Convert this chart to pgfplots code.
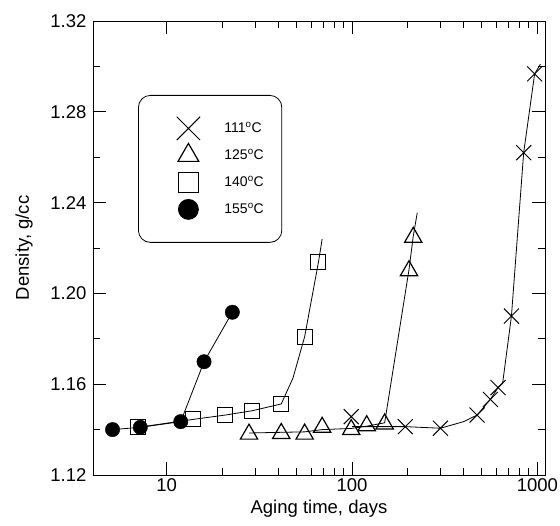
\documentclass[border=0pt]{standalone}
\usepackage{fontspec}
\setmainfont{Liberation Sans}
\usepackage{pgfplots}
\pgfplotsset{compat=1.18}
\pgfplotsset{myleg/.style={legend image code/.code={\path[draw=none,fill=none] (-34pt,-13.5pt) rectangle (20pt,13.5pt); \draw[sharp corners,##1,only marks] plot coordinates {(0pt,0pt)};}}}
\begin{document}
\begin{tikzpicture}
\useasboundingbox (-93pt,-51pt) rectangle (467pt,475pt);
\begin{axis}[
 scale only axis, width=452pt, height=454pt,
 xmode=log, xmin=4, xmax=1100, ymin=1.12, ymax=1.32,
 xtick={10,100,1000}, xticklabels={10,100,1000},
 ytick={1.12,1.16,1.20,1.24,1.28,1.32},
 yticklabels={1.12,1.16,1.20,1.24,1.28,1.32},
 minor ytick={1.14,1.18,1.22,1.26,1.30},
 tick align=inside, major tick length=13pt, minor tick length=7pt,
 tick style={black, line width=0.8pt},
 axis line style={line width=0.8pt},
 ticklabel style={font=\fontsize{18.5}{20}\selectfont},
 yticklabel style={xshift=-3pt},
 label style={font=\fontsize{18.5}{20}\selectfont},
 xlabel={Aging time, days}, ylabel={Density, g/cc},
 xlabel style={at={([yshift=-39pt]axis description cs:0.5,0)}, anchor=base},
 ylabel style={at={([xshift=-64pt]axis description cs:0,0.5)}, anchor=base},
 legend style={at={(axis description cs:0.0996,0.837)}, anchor=north west,
   draw=black, line width=0.8pt, rounded corners=12pt,
   inner xsep=16pt, inner ysep=19.5pt, row sep=0pt,
   font=\fontsize{14}{14}\selectfont,
   /tikz/every odd column/.append style={column sep=14pt}},
 legend cell align=left,
]
% lines
\addplot[no marks, line width=0.8pt, black, forget plot] coordinates {
 (5.1,1.1400) (7.2,1.1410) (11.9,1.1435) (15.9,1.1699) (22.6,1.1917)};
\addplot[no marks, line width=0.8pt, black, forget plot] coordinates {
 (7.0,1.1410) (13.9,1.1445) (20.7,1.1464) (28.9,1.1483) (41.5,1.1513) (48,1.1627) (55.5,1.1809) (65.9,1.2138) (69,1.2240)};
\addplot[no marks, line width=0.8pt, black, forget plot] coordinates {
 (27.8,1.1385) (41.5,1.1388) (55.5,1.1390) (69,1.1400) (99,1.1405) (120,1.1415) (150,1.1430) (203,1.2105) (214,1.2252) (225,1.2356)};
\addplot[no marks, line width=0.8pt, black, forget plot] coordinates {
 (100,1.1413) (194,1.1413) (300,1.1406) (400,1.1435) (473,1.1464) (558,1.1533) (614,1.1585) (650,1.1605) (725,1.1900) (844,1.2620) (967,1.2967) (1040,1.3010)};
% marks
\addplot[only marks, mark=x, mark size=10.6pt, line width=1pt, black, forget plot] coordinates {
 (99,1.1457) (194,1.1413) (300,1.1406) (473,1.1464) (558,1.1533) (614,1.1585) (725,1.1900) (844,1.2620) (967,1.2967)};
\addplot[only marks, mark=triangle, mark size=10pt, line width=1.2pt, black, forget plot] coordinates {
 (27.8,1.1380) (41.5,1.1383) (55.5,1.1380) (69,1.1410) (99,1.1400) (120,1.1417) (150,1.1425) (203,1.2100) (214,1.2247)};
\addplot[only marks, mark=square, mark size=7.5pt, line width=1pt, black, forget plot] coordinates {
 (7.0,1.1410) (13.9,1.1445) (20.7,1.1464) (28.9,1.1483) (41.5,1.1513) (55.5,1.1809) (65.9,1.2138)};
\addplot[only marks, mark=*, mark size=7.2pt, black, fill=black, forget plot] coordinates {
 (5.1,1.1400) (7.2,1.1410) (11.9,1.1435) (15.9,1.1699) (22.6,1.1917)};
% legend
\addlegendimage{myleg, mark=x, mark size=16.5pt, line width=1pt, black}
\addlegendentry{111\textsuperscript{o}C}
\addlegendimage{myleg, mark=triangle, mark size=12pt, line width=1.2pt, black}
\addlegendentry{125\textsuperscript{o}C}
\addlegendimage{myleg, mark=square, mark size=10pt, line width=1pt, black}
\addlegendentry{140\textsuperscript{o}C}
\addlegendimage{myleg, mark=*, mark size=10pt, black, fill=black}
\addlegendentry{155\textsuperscript{o}C}
\end{axis}
\end{tikzpicture}
\end{document}
